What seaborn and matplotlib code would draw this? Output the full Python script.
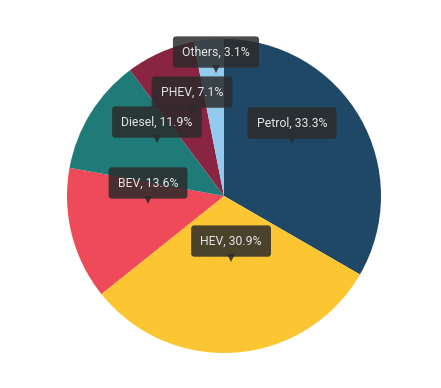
import matplotlib
matplotlib.use("Agg")
import matplotlib.pyplot as plt
import matplotlib.transforms as mtransforms
import seaborn as sns

categories = ["Petrol", "HEV", "BEV", "Diesel", "PHEV", "Others"]
shares = [33.3, 30.9, 13.6, 11.9, 7.1, 3.1]
colors = ["#1f4766", "#fbc631", "#ef4a59", "#1e7b78", "#8a2443", "#92cbee"]

# label box centres (layout, in pie-radius units)
label_pos = [(0.433, 0.465), (0.045, -0.287), (-0.484, 0.083),
             (-0.427, 0.471), (-0.204, 0.662), (-0.051, 0.917)]

sns.set_theme(style="white")
plt.rcParams["font.family"] = ["Roboto", "DejaVu Sans"]

W, H = 441, 388
fig = plt.figure(figsize=(W / 100, H / 100), dpi=100)
ax = fig.add_axes([0, 0, 1, 1])
cx, cy, r = 224, 196, 157

ax.pie(shares, colors=colors, startangle=90, counterclock=False,
       radius=1.0, center=(0, 0), frame=True,
       wedgeprops=dict(linewidth=0))
ax.set_xlim(-cx / r, (W - cx) / r)
ax.set_ylim(-(H - cy) / r, cy / r)
ax.set_aspect("auto")
ax.axis("off")

fs = 8.8
box_h_px = 29
box_col = (0.17, 0.17, 0.17, 0.85)
for cat, val, (x, y) in zip(categories, shares, label_pos):
    ax.text(x, y, f"{cat}, {val:.1f}%", ha="center", va="center",
            fontsize=fs, color="#e6e6e6", zorder=5,
            bbox=dict(boxstyle="round,pad=0.75,rounding_size=0.25",
                      fc=box_col, ec="none"))
    tr = mtransforms.offset_copy(ax.transData, fig=fig, x=0,
                                 y=-(box_h_px / 2 + 2.5) * 0.72, units="points")
    ax.plot([x], [y], marker="v", markersize=6, color=box_col,
            markeredgewidth=0, transform=tr, zorder=5)

fig.savefig("out.png", dpi=100)
